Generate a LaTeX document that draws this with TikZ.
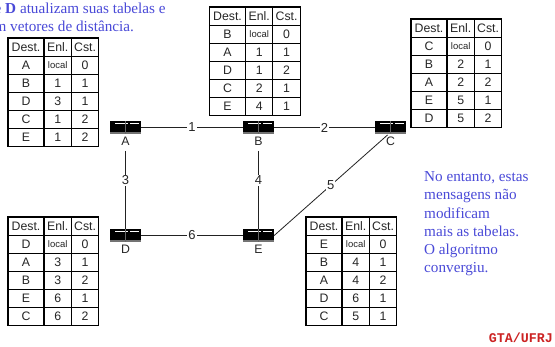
\documentclass[tikz,border=0pt]{standalone}
\usepackage{fontspec}
\setmainfont{Liberation Serif}
\setsansfont{Liberation Sans}
\definecolor{bluetxt}{HTML}{4A4AD8}
\definecolor{redtxt}{HTML}{CC2222}
\definecolor{linegray}{HTML}{222222}
\tikzset{
  x=1pt,y=-1pt,
  cell/.style={draw=black,line width=1.1pt,inner sep=0pt,minimum height=18.1pt,font=\sffamily\fontsize{12.3}{12.3}\selectfont,text=black!85},
  wa/.style={cell,minimum width=36pt},
  wb/.style={cell,minimum width=27.4pt},
  wc/.style={cell,minimum width=27.4pt},
  routerbox/.style={draw=none,fill=black,minimum width=31pt,minimum height=13pt,inner sep=0pt},
  rlabel/.style={inner sep=0pt,font=\sffamily\fontsize{12.3}{12.3}\selectfont,text=black!85},
  link/.style={draw=linegray,line width=0.8pt},
  cost/.style={fill=white,inner sep=1pt,font=\sffamily\fontsize{13}{13}\selectfont,text=black!85},
  bluetext/.style={inner sep=0pt,anchor=base west,text=bluetxt,font=\rmfamily\fontsize{15.2}{15.2}\selectfont},
}
\newcommand{\rtable}[4]{%
  \foreach \d/\e/\c [count=\r from 0] in {Dest./Enl./Cst.,#4}{
    \pgfmathsetmacro{\yy}{#2+9.05+18.1*\r}
    \ifnum\r=1 \def\lt{\fontsize{9.5}{9.5}\selectfont}\else\def\lt{}\fi
    \node[wa] (#3-\r-1) at (#1+18,\yy) {\d};
    \node[wb] (#3-\r-2) at (#1+49.7,\yy) {\lt\e};
    \node[wc] (#3-\r-3) at (#1+77.1,\yy) {\c};
  }}
\newcommand{\router}[4]{% name, x, y, label
  \node[routerbox] (#1) at (#2,#3) {};
  \fill[black!55] (#1.south west) ++(0,-2) rectangle (#1.south east);
  \fill[white] (#1.north west) ++(5,2) rectangle ++(13,0.9);
  \fill[white] (#1.north west) ++(20,2) rectangle ++(9,0.9);
  \draw[black!60,line width=0.7pt] (#1.north)++(-0.5,0) -- ++(0,13);
  \node[rlabel] (#1l) at (#2,#3+14) {#4};
}
\begin{document}
\begin{tikzpicture}
\useasboundingbox (0,0) rectangle (555,347);
\clip (0,0) rectangle (555,347);
\fill[white] (0,0) rectangle (555,347);

\rtable{8}{38}{ta}{A/local/0,B/1/1,D/3/1,C/1/2,E/1/2}
\rtable{209.5}{7}{tb}{B/local/0,A/1/1,D/1/2,C/2/1,E/4/1}
\rtable{411}{19}{tc}{C/local/0,B/2/1,A/2/2,E/5/1,D/5/2}
\rtable{8}{217}{td}{D/local/0,A/3/1,B/3/2,E/6/1,C/6/2}
\rtable{306}{217}{te}{E/local/0,B/4/1,A/4/2,D/6/1,C/5/1}

\router{A}{125.5}{127.5}{A}
\router{B}{258.5}{127.5}{B}
\router{C}{390.5}{127.5}{C}
\router{D}{125.5}{235.5}{D}
\router{E}{258.5}{235.5}{E}
\coordinate (Cend) at (387.5,135);

\draw[link] (A.east) -- node[cost]{1} (B.west);
\draw[link] (B.east) -- node[cost]{2} (C.west);
\draw[link] (D.east) -- node[cost]{6} (E.west);
\draw[link] (Al.south)++(0,5) -- node[cost,pos=0.38]{3} (D.north);
\draw[link] (Bl.south)++(0,5) -- node[cost,pos=0.38]{4} (E.north);
\draw[link] (E.east) -- node[cost,pos=0.5]{5} (Cend);

\node[bluetext] (t1) at (-5.5,13.5) {e \textbf{D} atualizam suas tabelas e};
\node[bluetext] (t2) at (-5.6,32) {m vetores de distância.};

\node[bluetext] (n1) at (424,182) {No entanto, estas};
\node[bluetext] (n2) at (424,200) {mensagens não};
\node[bluetext] (n3) at (424,218.5) {modificam};
\node[bluetext] (n4) at (424,237) {mais as tabelas.};
\node[bluetext] (n5) at (424,255) {O algoritmo};
\node[bluetext] (n6) at (424,273) {convergiu.};

\node[inner sep=0pt,anchor=base east,text=redtxt,font=\fontspec{Liberation Mono Bold}\fontsize{13.3}{13.3}\selectfont] (g) at (553,343) {GTA/UFRJ};
\end{tikzpicture}
\end{document}
